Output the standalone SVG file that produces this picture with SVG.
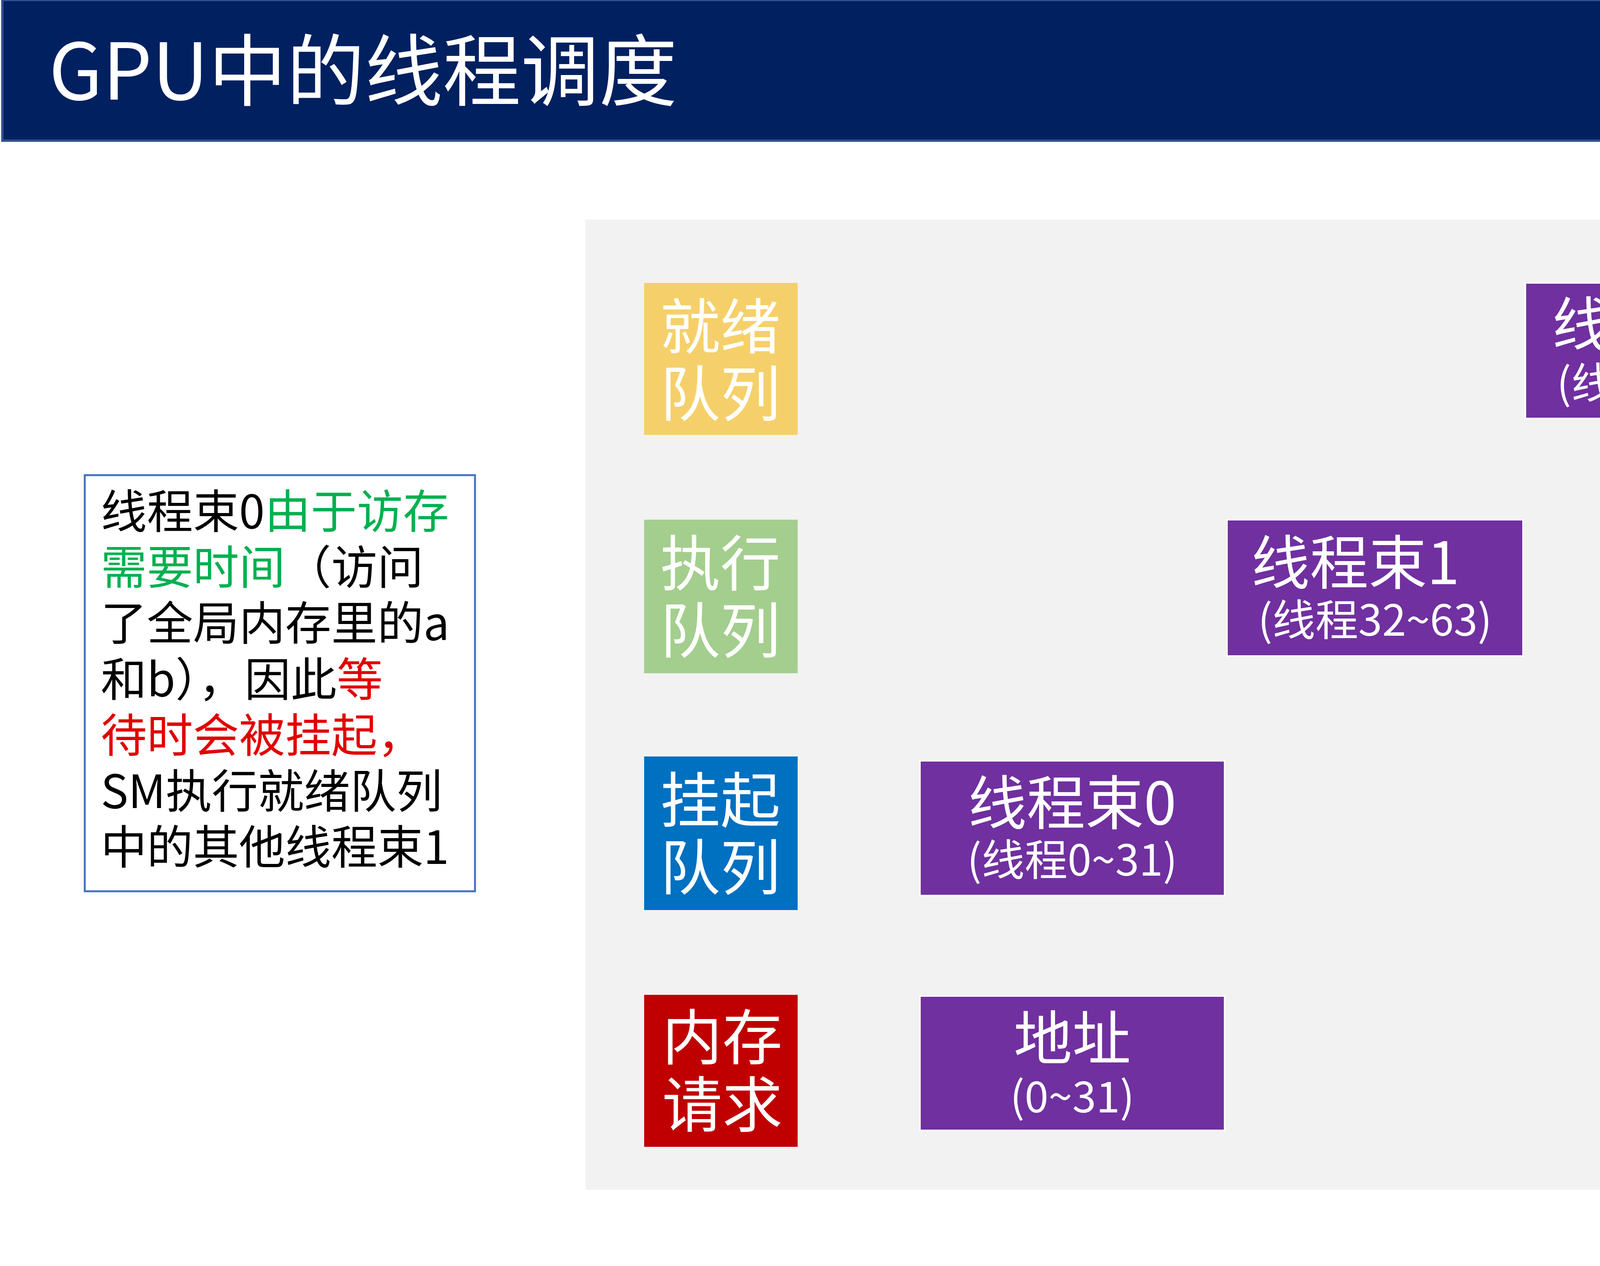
<svg xmlns="http://www.w3.org/2000/svg" width="5760" height="3240" viewBox="0 0 5760 3240">
<style>
text{font-family:"Noto Sans CJK SC","Noto Sans",sans-serif}
.q{font-size:154px;fill:#fff}
.pt{font-size:150px;fill:#fff;text-anchor:middle}
.ps{font-size:110px;fill:#fff;text-anchor:middle}
.pb{fill:#7030A0;stroke:#fff;stroke-width:4}
.n{font-size:118px;fill:#000}
.g{fill:#00B050}.r{fill:#E00000}
</style>
<rect width="5760" height="3240" fill="#fff"/>
<g id="title"><rect x="6" y="0" width="5748" height="360" fill="#002060" stroke="#2F528F" stroke-width="6"/>
<text x="125" y="255" font-size="200" fill="#fff">GPU中的线程调度</text></g>
<rect id="panel" x="1499" y="562" width="4041" height="2483" fill="#F2F2F2"/>
<g id="ready"><rect x="1649" y="724" width="393" height="389" fill="#F5D06A"/><text class="q" x="1690" y="893">就绪</text><text class="q" x="1690" y="1065">队列</text></g>
<g id="exec"><rect x="1649" y="1330" width="393" height="393" fill="#A3CE8D"/><text class="q" x="1690" y="1499">执行</text><text class="q" x="1690" y="1671">队列</text></g>
<g id="susp"><rect x="1649" y="1936" width="393" height="393" fill="#0070C0"/><text class="q" x="1690" y="2105">挂起</text><text class="q" x="1690" y="2277">队列</text></g>
<g id="mem"><rect x="1649" y="2546" width="393" height="389" fill="#C00000"/><text class="q" x="1695" y="2712">内存</text><text class="q" x="1695" y="2884">请求</text></g>
<g id="w2"><rect class="pb" x="3905" y="724" width="755" height="347"/><text class="pt" x="4240" y="885">线程束2</text><text class="ps" x="4285" y="1021">(线程64~95)</text></g>
<g id="w3"><rect class="pb" x="4664" y="724" width="810" height="347"/><text class="pt" x="5018" y="885">线程束3</text><text class="ps" x="5070" y="1021">(线程96~127)</text></g>
<g id="w1"><rect class="pb" x="3141" y="1330" width="758" height="349"/><text class="pt" x="3470" y="1495">线程束1</text><text class="ps" x="3520" y="1627">(线程32~63)</text></g>
<g id="w0"><rect class="pb" x="2355" y="1947" width="780" height="345"/><text class="pt" x="2745" y="2110">线程束0</text><text class="ps" x="2745" y="2241">(线程0~31)</text></g>
<g id="addr"><rect class="pb" x="2355" y="2549" width="780" height="344"/><text class="pt" x="2745" y="2712">地址</text><text class="ps" x="2745" y="2847">(0~31)</text></g>
<g id="cycle"><rect x="4526" y="2700" width="1014" height="213" fill="#8EAADB" stroke="#fff" stroke-width="4"/><text x="5029" y="2865" font-size="150" fill="#fff" text-anchor="middle">调度周期：  1</text></g>
<g id="note"><rect x="217" y="1216" width="999" height="1065" fill="#fff" stroke="#4472C4" stroke-width="5"/>
<text class="n" x="258" y="1352">线程束0<tspan class="g">由于访存</tspan></text>
<text class="n" x="258" y="1495"><tspan class="g">需要时间</tspan>（访问</text>
<text class="n" x="258" y="1638">了全局内存里的a</text>
<text class="n" x="258" y="1782">和b），因此<tspan class="r">等</tspan></text>
<text class="n r" x="258" y="1925">待时会被挂起，</text>
<text class="n" x="258" y="2068">SM执行就绪队列</text>
<text class="n" x="258" y="2211">中的其他线程束1</text></g>
<text x="5282" y="3115" font-size="66" fill="#888" text-anchor="middle">19</text>
<g id="connectors"/>
</svg>
